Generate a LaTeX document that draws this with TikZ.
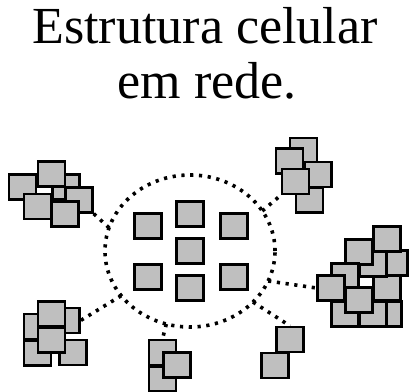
\documentclass[tikz,border=0pt]{standalone}
\usepackage{fontspec}
\setmainfont{Liberation Serif}
\usepackage{tikz}
\usetikzlibrary{shapes.geometric}

\begin{document}
\begin{tikzpicture}[x=0.025cm, y=-0.025cm,
  cell/.style={draw, line width=0.055cm, fill=black!25, inner sep=0pt,
    minimum width=\cellw, minimum height=\cellh},
  link/.style={line width=0.09cm, dash pattern=on 0.08cm off 0.14cm},
  title/.style={anchor=base, font=\fontsize{37}{40}\selectfont}]

% Cell size and network ring

\def\cellw{0.675cm}
\def\cellh{0.625cm}

\useasboundingbox (0,0) rectangle (410,391);

\node[title] (t1) at (205,43) {Estrutura celular};
\node[title] (t2) at (207,98) {em rede.};

\node[draw, ellipse, link, inner sep=0pt, outer sep=0pt,
  minimum width=4.25cm, minimum height=3.8cm] (net) at (190,251) {};

% Central cells
\node[cell] (c1) at (148,226) {};
\node[cell] (c2) at (190,214) {};
\node[cell] (c3) at (234,226) {};
\node[cell] (c4) at (190,251) {};
\node[cell] (c5) at (148,277) {};
\node[cell] (c6) at (190,288) {};
\node[cell] (c7) at (234,277) {};

% Top left group
\node[cell] (tl1) at (22.5,187) {};
\node[cell] (tl3) at (66,187) {};
\node[cell] (tl2) at (51.5,174) {};
\node[cell] (tl4) at (37.5,206.5) {};
\node[cell] (tl5) at (79,200) {};
\node[cell] (tl6) at (65,214) {};

% Top right group
\node[cell] (tr5) at (309.5,200) {};
\node[cell] (tr1) at (303.5,150.5) {};
\node[cell] (tr3) at (318,174.5) {};
\node[cell] (tr2) at (289.5,161) {};
\node[cell] (tr4) at (295.5,181.5) {};

% Right group
\node[cell] (r9) at (345,314) {};
\node[cell] (r11) at (388,314) {};
\node[cell] (r10) at (373,314) {};
\node[cell] (r8) at (387,288) {};
\node[cell] (r3) at (394,263) {};
\node[cell] (r1) at (387,239) {};
\node[cell] (r4) at (373,264) {};
\node[cell] (r2) at (359,252) {};
\node[cell] (r5) at (345,276) {};
\node[cell] (r6) at (331,288) {};
\node[cell] (r7) at (359,300) {};

% Bottom left group
\node[cell] (bl3) at (66,320.5) {};
\node[cell] (bl1) at (37.5,326.5) {};
\node[cell] (bl4) at (37.5,353) {};
\node[cell] (bl5) at (73,352.5) {};
\node[cell] (bl2) at (51.5,314) {};
\node[cell] (bl6) at (51.5,340) {};

% Bottom middle group
\node[cell] (bm1) at (162.5,352.5) {};
\node[cell] (bm3) at (162.5,379) {};
\node[cell] (bm2) at (177,365) {};

% Bottom right group
\node[cell] (br1) at (290,339.5) {};
\node[cell] (br2) at (275,365.5) {};

% Links to the ring
\draw[link] (net.164) -- (tl5.south east);
\draw[link] (net.29) -- (tr4.south west);
\draw[link] (net.-21) -- (r6.west);
\draw[link] (net.-39) -- (br1.north);
\draw[link] (net.252) -- (bm1.north);
\draw[link] (net.213) -- (bl3.east);

\end{tikzpicture}
\end{document}
